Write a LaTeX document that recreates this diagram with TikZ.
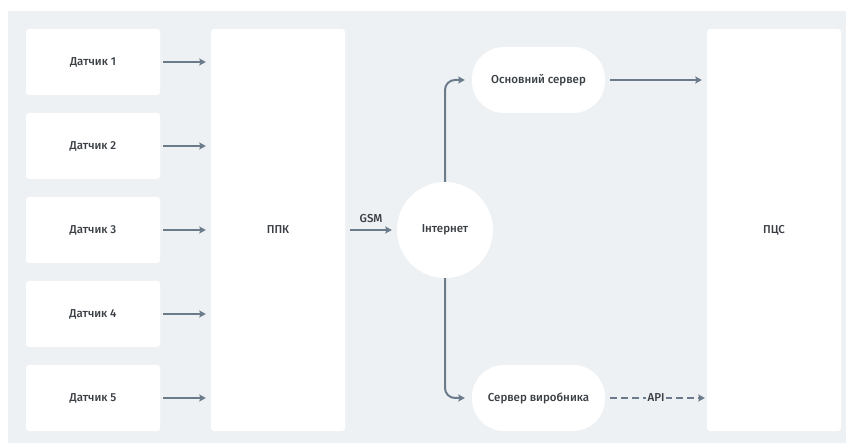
\documentclass[tikz,border=0pt]{standalone}
\usepackage{fontspec}
\setmainfont{Fira Sans}[UprightFont=* Medium]
\usetikzlibrary{arrows.meta}
\definecolor{panel}{HTML}{EEF1F4}
\definecolor{ink}{HTML}{3A3F45}
\definecolor{wire}{HTML}{6B7B8C}
\newcommand\boxfont{\fontsize{11.5}{13}\selectfont}
\tikzset{
  card/.style={draw=none, fill=white, rounded corners=3pt, minimum width=134pt, minimum height=66pt, text=ink, font=\boxfont},
  tall/.style={card, minimum height=402pt},
  pill/.style={draw=none, fill=white, rounded corners=32pt, minimum width=133pt, minimum height=66pt, text=ink, font=\boxfont},
  hub/.style={draw=none, fill=white, circle, minimum size=96pt, text=ink, font=\boxfont},
  link/.style={draw=wire, line width=2pt, -{Stealth[length=6.5pt,width=7pt,inset=1pt]}},
  lbl/.style={text=ink, font=\boxfont},
}
\begin{document}
\begin{tikzpicture}[x=1pt,y=-1pt]
\useasboundingbox (0,0) rectangle (846,443);
\fill[panel] (8,11) rectangle (846,443);
% sensors
\foreach \i in {1,...,5}{
  \node[card] (s\i) at (93,{62+84*(\i-1)}) {Датчик \i};
}
\node[tall] (ppk) at (278,230) {ППК};
\node[tall] (pcs) at (774,230) {ПЦС};
\node[hub] (net) at (445,230) {Інтернет};
\node[pill] (main) at (538.5,80) {Основний сервер};
\node[pill] (vend) at (538.5,398) {Сервер виробника};
% sensor links
\foreach \i in {1,...,5}{
  \draw[link, shorten <=3pt, shorten >=5pt] (s\i.east) -- (s\i.east -| ppk.west);
}
\draw[link, shorten <=5pt, shorten >=5pt] (ppk.east) -- (net.west)
  node[lbl, midway, above=3pt] {GSM};
\draw[link, rounded corners=10pt, shorten >=7pt] (net.north) -- (net.north |- main.west) -- (main.west);
\draw[link, rounded corners=10pt, shorten >=7pt] (net.south) -- (net.south |- vend.west) -- (vend.west);
\draw[link, shorten <=5pt, shorten >=5pt] (main.east) -- (main.east -| pcs.west);
\coordinate (apiend) at (vend.east -| pcs.west);
\draw[link, dash pattern=on 7pt off 4pt, shorten <=5pt, shorten >=2pt] (vend.east) -- (apiend)
  node[lbl, midway, fill=panel, inner xsep=1.5pt, inner ysep=1pt] {API};
\end{tikzpicture}
\end{document}
